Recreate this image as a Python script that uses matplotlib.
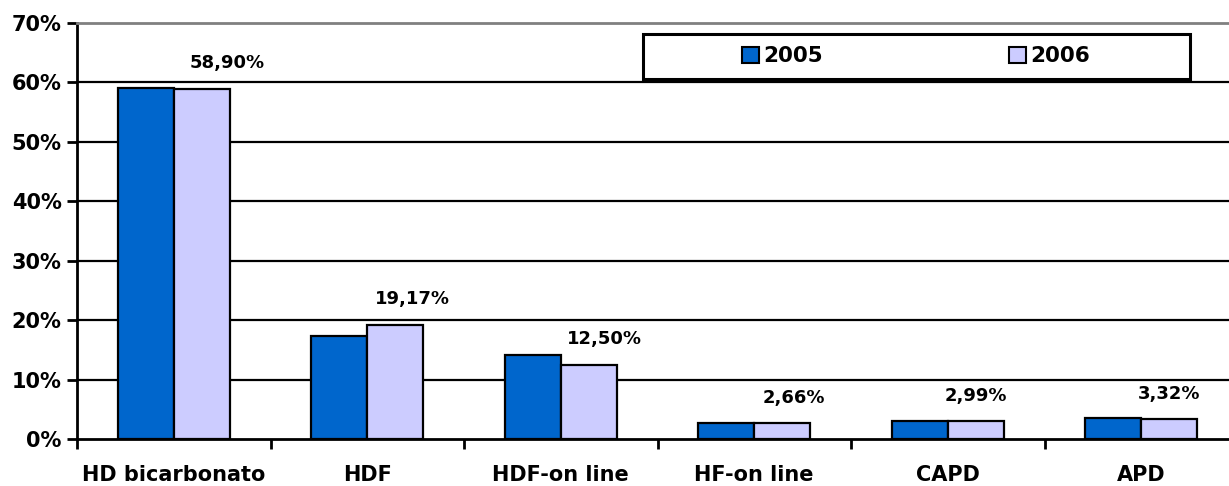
import numpy as np
import matplotlib.pyplot as plt
from matplotlib.patches import Rectangle, Patch
from matplotlib.ticker import FixedLocator

# Data
categories = ["HD bicarbonato", "HDF", "HDF-on line", "HF-on line", "CAPD", "APD"]
years = ["2005", "2006"]
vals_2005 = [59.0, 17.4, 14.2, 2.64, 3.1, 3.45]
vals_2006 = [58.90, 19.17, 12.50, 2.66, 2.99, 3.32]
labels_2006 = ["58,90%", "19,17%", "12,50%", "2,66%", "2,99%", "3,32%"]
yticks = [0, 10, 20, 30, 40, 50, 60, 70]

plt.rcParams['font.family'] = ['DejaVu Sans']
plt.rcParams['font.weight'] = 'bold'

fig = plt.figure(figsize=(12.29, 4.86), dpi=100)
ax = fig.add_axes([77 / 1229, 47 / 486, 1161 / 1229, 416 / 486])

x = np.arange(len(categories))
w = 0.29
c05 = '#0066CC'
c06 = '#CCCCFF'
ax.bar(x - w / 2, vals_2005, w, color=c05, edgecolor='black', linewidth=1.6, zorder=3)
ax.bar(x + w / 2, vals_2006, w, color=c06, edgecolor='black', linewidth=1.6, zorder=3)

# label shifts (points) as placed in the original
dx = [18, 12, 11.5, 8, 0, 0]
for xi, v, lab, d in zip(x, vals_2006, labels_2006, dx):
    ax.annotate(lab, (xi + w / 2, v), xytext=(d, 12), textcoords='offset points',
                ha='center', va='bottom', fontsize=13, fontweight='bold')

ax.set_xlim(-0.5, len(categories) - 0.5)
ax.set_ylim(0, 70)
ax.set_yticks(yticks)
ax.set_yticklabels([f"{t}%" for t in yticks], fontsize=15, fontweight='bold')
ax.set_xticks(x)
ax.set_xticklabels(categories, fontsize=15, fontweight='bold')
ax.xaxis.set_minor_locator(FixedLocator(np.arange(-0.5, len(categories), 1.0)))
ax.tick_params(axis='x', which='major', length=0, pad=19)
ax.tick_params(axis='x', which='minor', length=7, width=2, direction='out')
ax.tick_params(axis='y', length=7, width=2, direction='out', pad=4)

for t in yticks[1:-1]:
    ax.axhline(t, color='black', linewidth=1.6, zorder=1)

for s in ['left', 'bottom']:
    ax.spines[s].set_linewidth(2)
    ax.spines[s].set_color('black')
ax.spines['top'].set_color('#808080')
ax.spines['top'].set_linewidth(2)
ax.spines['right'].set_visible(False)

# legend box
fig.patches.append(Rectangle((643 / 1229, 1 - 79 / 486), 547 / 1229, 45 / 486,
                             transform=fig.transFigure, facecolor='white',
                             edgecolor='black', linewidth=2.2, zorder=5))
handles = [Patch(facecolor=c05, edgecolor='black', linewidth=1.5),
           Patch(facecolor=c06, edgecolor='black', linewidth=1.5)]
fig.legend(handles, years, loc='center', bbox_to_anchor=(916 / 1229, 1 - 56.5 / 486),
           ncol=2, frameon=False, prop={'weight': 'bold', 'size': 15.5},
           handlelength=0.8, handleheight=0.8, handletextpad=0.2, columnspacing=8.6)

fig.savefig("out.png", dpi=100)
